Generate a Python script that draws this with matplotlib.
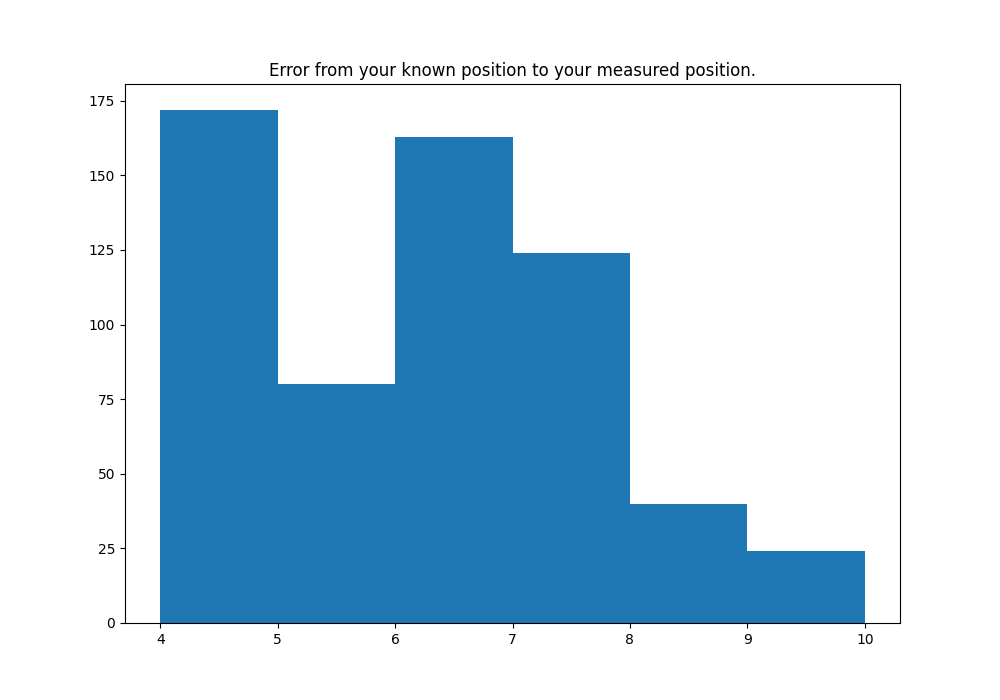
import matplotlib
matplotlib.use('Agg')
import matplotlib.pyplot as plt

bin_edges = [4, 5, 6, 7, 8, 9, 10]
counts = [172, 80, 163, 124, 40, 24]

plt.figure(figsize=(10, 7))
plt.hist(bin_edges[:-1], bins=bin_edges, weights=counts)
plt.title('Error from your known position to your measured position.')
plt.savefig('out.png', dpi=100)
